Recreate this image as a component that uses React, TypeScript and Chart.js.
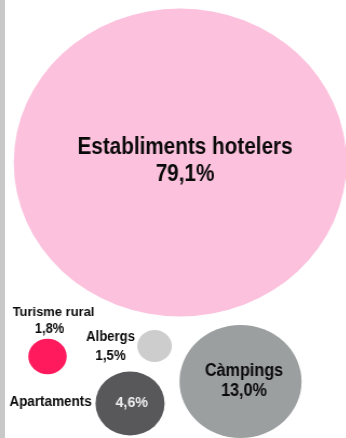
import React, { useEffect, useRef } from "react";
import { Chart, registerables } from "chart.js";

Chart.register(...registerables);

// ---- data ----
const categories = ["Establiments hotelers", "Càmpings", "Apartaments", "Turisme rural", "Albergs"];
const shares = [79.1, 13.0, 4.6, 1.8, 1.5];
const bubbleX = [166.7, 222.7, 120.4, 44.0, 143.1];
const bubbleY = [162.5, 381.5, 403.5, 356.5, 346.0];
const bubbleR = [154, 56.5, 32, 17.8, 16];
const colors = ["#fcc1dd", "#9c9fa0", "#58585a", "#ff1a5e", "#cdcdcd"];

const STRETCH = 1.08; // horizontal stretch of the picture
const CANVAS_W = 320;
const CANVAS_H = 438;

const fmt = (v: number) => v.toFixed(1).replace(".", ",") + "%";

type Line = { text: string; dx: number; dy: number; size: number; bold: boolean; color: string; squeeze: number };

const labelLayout = (i: number): Line[] => {
  const name = categories[i];
  const pct = fmt(shares[i]);
  switch (i) {
    case 0:
      return [
        { text: name, dx: 5, dy: -14.5, size: 23, bold: true, color: "#0a0a0a", squeeze: 0.9 },
        { text: pct, dx: 5, dy: 12.5, size: 23, bold: true, color: "#0a0a0a", squeeze: 0.9 },
      ];
    case 1:
      return [
        { text: name, dx: 3.5, dy: -10.5, size: 18, bold: true, color: "#0a0a0a", squeeze: 0.9 },
        { text: pct, dx: 3.5, dy: 9.5, size: 18, bold: true, color: "#0a0a0a", squeeze: 0.9 },
      ];
    case 2:
      return [
        { text: name, dx: -79.5, dy: -1.5, size: 14.5, bold: true, color: "#0a0a0a", squeeze: 0.93 },
        { text: pct, dx: 1.7, dy: -0.7, size: 15, bold: true, color: "#eeeeee", squeeze: 0.95 },
      ];
    case 3:
      return [
        { text: name, dx: 6, dy: -44.5, size: 13.5, bold: true, color: "#0a0a0a", squeeze: 0.96 },
        { text: pct, dx: 2, dy: -27, size: 14, bold: true, color: "#0a0a0a", squeeze: 0.92 },
      ];
    default:
      return [
        { text: name, dx: -44, dy: -8.7, size: 14.5, bold: true, color: "#0a0a0a", squeeze: 0.9 },
        { text: pct, dx: -44, dy: 10, size: 14.5, bold: true, color: "#0a0a0a", squeeze: 0.92 },
      ];
  }
};

const labelPlugin = {
  id: "bubbleLabels",
  afterDatasetsDraw(chart: any) {
    const ctx = chart.ctx as CanvasRenderingContext2D;
    const meta = chart.getDatasetMeta(0);
    meta.data.forEach((el: any, i: number) => {
      const sx = el.x * STRETCH;
      const sy = el.y;
      labelLayout(i).forEach((ln) => {
        ctx.save();
        ctx.translate((sx + ln.dx) / STRETCH, sy + ln.dy);
        ctx.scale(ln.squeeze / STRETCH, 1);
        ctx.font = `${ln.bold ? "bold " : ""}${ln.size}px "Liberation Sans", Arial, sans-serif`;
        ctx.fillStyle = ln.color;
        ctx.textAlign = "center";
        ctx.textBaseline = "middle";
        ctx.fillText(ln.text, 0, 0);
        ctx.restore();
      });
    });
  },
};

export default function App() {
  const ref = useRef<HTMLCanvasElement | null>(null);
  useEffect(() => {
    if (!ref.current) return;
    const chart = new Chart(ref.current, {
      type: "bubble",
      data: {
        datasets: [
          {
            label: "Allotjaments",
            data: categories.map((_, i) => ({ x: bubbleX[i], y: bubbleY[i], r: bubbleR[i] })),
            backgroundColor: colors,
            borderWidth: 0,
            hoverRadius: 0,
            clip: false as any,
          },
        ],
      },
      options: {
        animation: false,
        responsive: false,
        maintainAspectRatio: false,
        events: [],
        layout: { padding: 0, autoPadding: false },
        plugins: { legend: { display: false }, tooltip: { enabled: false } },
        scales: {
          x: { type: "linear", min: 0, max: CANVAS_W, display: false },
          y: { type: "linear", min: 0, max: CANVAS_H, reverse: true, display: false },
        },
      },
      plugins: [labelPlugin],
    });
    return () => chart.destroy();
  }, []);

  return (
    <div style={{ position: "fixed", left: 0, top: 0, width: 346, height: 438, background: "#fff", overflow: "hidden" }}>
      <div style={{ position: "absolute", left: 0, top: 0, width: CANVAS_W, height: CANVAS_H, transform: `scaleX(${STRETCH})`, transformOrigin: "0 0" }}>
        <canvas ref={ref} width={CANVAS_W} height={CANVAS_H} style={{ display: "block", width: CANVAS_W, height: CANVAS_H }} />
      </div>
      <div style={{ position: "absolute", left: 0, top: 0, width: 5, height: 438, background: "#c8c8c8" }} />
    </div>
  );
}
